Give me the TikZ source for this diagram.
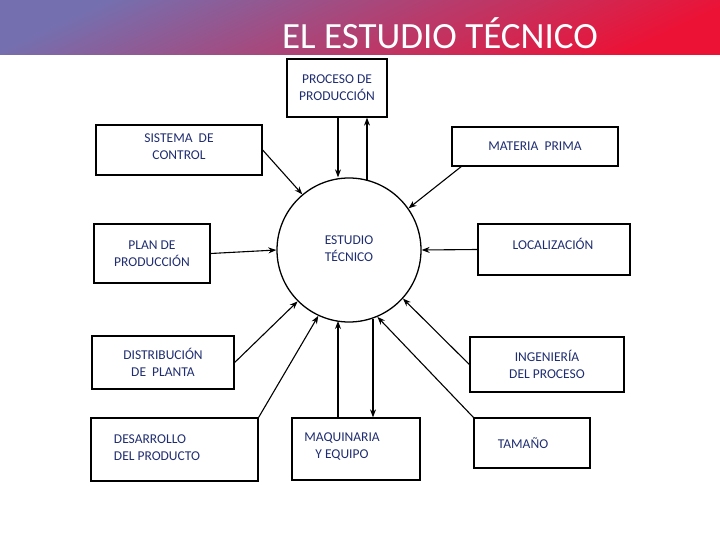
\documentclass[tikz,border=0pt]{standalone}
\usepackage{fontspec}
\setmainfont{Carlito}
\usetikzlibrary{arrows.meta}
\definecolor{txt}{HTML}{1F2D70}
\definecolor{hA}{HTML}{7470B0}
\definecolor{hB}{HTML}{EC1236}
\begin{document}
\begin{tikzpicture}[x=1pt,y=-1pt,
  tf/.style={text=txt,font=\fontsize{13.5}{17}\selectfont},
  box/.style={draw,line width=1.3pt,minimum width=#1,inner sep=0pt,tf,align=center},
  con/.style={line width=1.1pt,-{Stealth[length=8pt,width=6pt]}}]
\useasboundingbox (0,0) rectangle (720,540);
\shade[top color=hA,bottom color=hB,shading angle=25] (0,0) rectangle (720,55);
\node[text=white,font=\fontsize{37}{40}\selectfont] (title) at (440,33) {EL ESTUDIO TÉCNICO};
\node[draw,circle,line width=1.3pt,minimum size=144pt,inner sep=0pt] (c) at (349,250) {};
\node[tf,align=center] (ct) at (349,249) {ESTUDIO\\TÉCNICO};
\node[box=100pt,minimum height=58pt] (proc) at (337,88) {PROCESO DE\\PRODUCCIÓN};
\node[box=166pt,minimum height=50pt] (sis) at (179,150) {};
\node[tf,align=center] (sist) at (179,147) {SISTEMA \ DE\\CONTROL};
\node[box=166pt,minimum height=39pt] (mat) at (535,146.5) {MATERIA \ PRIMA};
\node[box=116pt,minimum height=59pt] (plan) at (152,253.5) {PLAN DE\\PRODUCCIÓN};
\node[box=152pt,minimum height=51pt] (loc) at (554,249.5) {};
\node[tf] (loct) at (553,244) {LOCALIZACIÓN};
\node[box=142pt,minimum height=53pt] (dis) at (163,362.5) {DISTRIBUCIÓN\\DE \ PLANTA};
\node[box=154pt,minimum height=55pt] (ing) at (547,364.5) {INGENIERÍA\\DEL PROCESO};
\node[box=167pt,minimum height=63pt] (des) at (174.5,449.5) {};
\node[tf,align=left] (dest) at (157,448) {DESARROLLO\\DEL PRODUCTO};
\node[box=128pt,minimum height=62pt] (maq) at (356,449) {};
\node[tf,align=center] (maqt) at (342,447) {MAQUINARIA\\Y EQUIPO};
\node[box=116pt,minimum height=50pt] (tam) at (532,443) {};
\node[tf] (tamt) at (523,443) {TAMAÑO};
% connectors
\coordinate (p1) at (338,117);
\draw[con] (p1) -- (c.north -| p1);
\coordinate (p2) at (367,181);
\draw[con] (p2) -- (proc.south -| p2);
\draw[con] (sis.east) -- (c.130);
\coordinate (m1) at (462,166);
\draw[con] (m1) -- (c.35);
\draw[con] (plan.east) -- (c.180);
\draw[con] (loc.west) -- (c.0);
\draw[con] (dis.east) -- (c.225);
\draw[con] (des.north east) -- (c.245);
\coordinate (q1) at (338,418);
\draw[con] (q1) -- (338,321);
\coordinate (q2) at (373,319);
\draw[con] (q2) -- (maq.north -| q2);
\draw[con] (ing.west) -- (c.318);
\draw[con] (tam.north west) -- (c.293);
\end{tikzpicture}
\end{document}
